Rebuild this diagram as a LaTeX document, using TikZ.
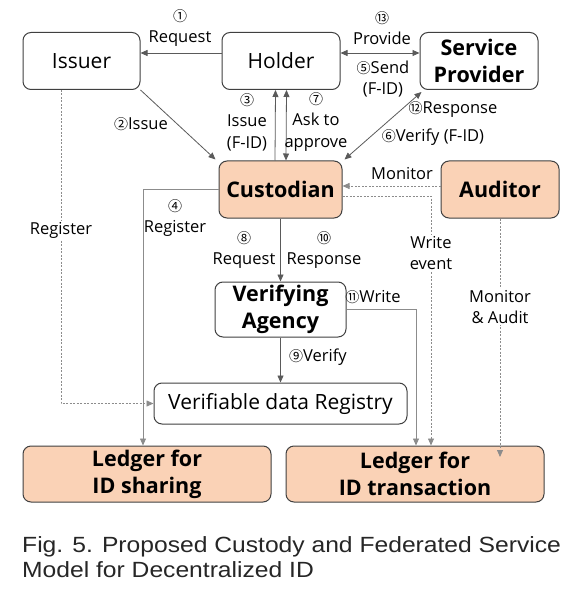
\documentclass[tikz,border=0pt]{standalone}
\usepackage{fontspec}
\setmainfont{Open Sans}
\newfontfamily\symf{Noto Sans CJK KR}
\newfontfamily\capf{Liberation Sans}[FakeStretch=1.12]
\usetikzlibrary{arrows.meta}
\definecolor{peach}{HTML}{FAD2B6}
\definecolor{bord}{HTML}{404040}
\definecolor{ln}{HTML}{5A5A5A}
\definecolor{lnl}{HTML}{8C8C8C}
\newcommand{\cn}[1]{{\symf\fontsize{14}{14}\selectfont #1}}
\tikzset{
  box/.style={draw=bord, line width=1pt, rounded corners=8pt, fill=white, align=center, inner sep=0pt},
  pbox/.style={box, fill=peach},
  bl/.style={font=\fontsize{21}{23}\selectfont},
  bb/.style={font=\bfseries\fontsize{21.5}{27}\selectfont},
  lab/.style={font=\fontsize{16.5}{21.5}\selectfont, align=center, inner sep=1pt},
  wlab/.style={lab, fill=white},
  arr/.style={draw=ln, line width=0.8pt, -{Triangle[length=7pt,width=6pt]}},
  darr/.style={arr, {Triangle[length=7pt,width=6pt]}-{Triangle[length=7pt,width=6pt]}},
  larr/.style={arr, draw=lnl},
  dot/.style={draw=lnl, line width=0.8pt, dash pattern=on 2pt off 1.5pt, -{Triangle[length=7pt,width=6pt]}},
}
\begin{document}
\begin{tikzpicture}[x=1pt,y=-1pt]
\useasboundingbox (0,0) rectangle (576,604);
% nodes
\node[box,bl,minimum width=117pt,minimum height=57pt] (iss) at (81.5,61) {Issuer};
\node[box,bl,minimum width=118pt,minimum height=57pt] (hol) at (281,61) {Holder};
\node[box,bb,minimum width=118pt,minimum height=57pt] (sp) at (479,61) {Service\\Provider};
\node[pbox,bb,minimum width=123pt,minimum height=57pt] (cus) at (280.5,189.5) {Custodian};
\node[pbox,bb,minimum width=118pt,minimum height=57pt] (aud) at (500,189.5) {Auditor};
\node[box,bb,minimum width=131pt,minimum height=55pt] (va) at (280.5,309.5) {Verifying\\Agency};
\node[box,bl,minimum width=253pt,minimum height=41pt] (reg) at (280.5,403.5) {Verifiable data Registry};
\node[pbox,bb,minimum width=248pt,minimum height=56pt] (ls) at (147,474) {Ledger for\\ID sharing};
\node[pbox,bb,minimum width=258pt,minimum height=56pt] (lt) at (415,474) {Ledger for\\ID transaction};
\coordinate (mae) at (500,457);
% connectors
\draw[arr] ([yshift=8pt]hol.west) -- ([yshift=8pt]iss.east);
\draw[darr] ([yshift=8pt]hol.east) -- ([yshift=8pt]sp.west);
\draw[arr] (iss.south east) -- ([xshift=-3pt,yshift=1pt]cus.north west);
\draw[arr] ([xshift=-5.5pt]cus.north) -- ([xshift=-5.5pt]hol.south);
\draw[darr] ([xshift=5.5pt]cus.north) -- ([xshift=5.5pt]hol.south);
\draw[darr] ([xshift=2pt,yshift=1pt]cus.north east) -- ([xshift=2pt,yshift=-2pt]sp.south west);
\draw[dot] ([yshift=3.5pt]aud.west) -- ([yshift=3.5pt]cus.east);
\draw[dot] ([yshift=-6.5pt]cus.east) -| ([xshift=16pt]lt.north);
\draw[dot] (aud.south) -- (mae);
\draw[larr] (cus.west) -| ([xshift=-4pt]ls.north);
\draw[arr] (cus.south) -- (va.north);
\draw[arr] (va.south) -- (reg.north);
\draw[larr] (va.east) -| ([xshift=1pt]lt.north);
\draw[dot] ([xshift=-20.5pt]iss.south) |- (reg.west);
% labels
\node[lab] (l1) at (180,28) {\cn{①}\\Request};
\node[lab] (l2) at (141,124) {\cn{②}Issue};
\node[lab] (l3) at (247,122) {\cn{③}\\Issue\\(F-ID)};
\node[lab] (l7) at (316,122) {\cn{⑦}\\Ask to\\approve};
\node[lab] (l13) at (382,28) {\cn{⑬}\\Provide};
\node[lab] (l5) at (383,79) {\cn{⑤}Send\\(F-ID)};
\node[lab] (l12) at (453,110) {\cn{⑫}Response};
\node[lab] (l6) at (433,137) {\cn{⑥}Verify (F-ID)};
\node[lab] (lm) at (402,174) {Monitor};
\node[wlab] (lr) at (61,230) {Register};
\node[lab] (l4) at (175,218) {\cn{④}\\Register};
\node[lab] (l8) at (244,250) {\cn{⑧}\\Request};
\node[lab] (l10) at (324,250) {\cn{⑩}\\Response};
\node[wlab] (lw) at (431,253) {Write\\event};
\node[lab] (l11) at (373,297) {\cn{⑪}Write};
\node[wlab] (lma) at (500,307) {Monitor\\\& Audit};
\node[lab] (l9) at (318,357) {\cn{⑨}Verify};
% caption
\node[anchor=north west, align=left, inner sep=0pt, text=black!85, font=\capf\fontsize{22}{25.5}\selectfont] (cap) at (22,536) {Fig. 5. Proposed Custody and Federated Service\\Model for Decentralized ID};
\end{tikzpicture}
\end{document}
